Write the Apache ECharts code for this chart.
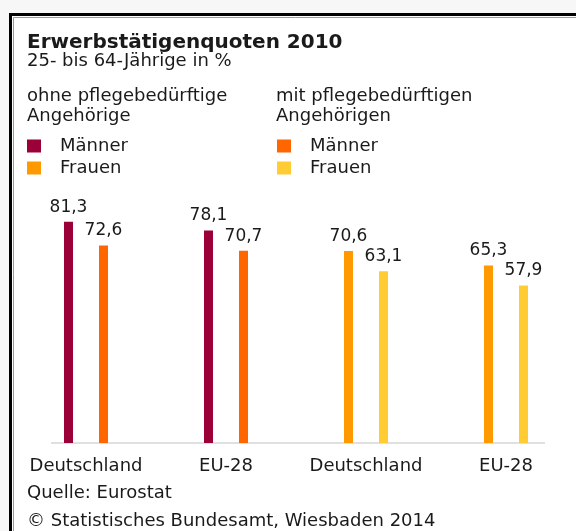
<!DOCTYPE html>
<html>
<head>
<meta charset="utf-8">
<script src="https://cdn.jsdelivr.net/npm/echarts@6/dist/echarts.min.js"></script>
<style>
html,body{margin:0;padding:0;background:#fff;}
#c{width:576px;height:531px;}
</style>
</head>
<body>
<div id="c"></div>
<script>
// ---- data ----
var categories = ['Deutschland', 'EU-28', 'Deutschland', 'EU-28'];
var ohneMaenner = [81.3, 78.1, null, null];
var ohneFrauen  = [72.6, 70.7, null, null];
var mitMaenner  = [null, null, 70.6, 65.3];
var mitFrauen   = [null, null, 63.1, 57.9];
var yMin = 0, yMax = 100;

var FONT = 'DejaVu Sans';
var TXT = '#1a1a1a';
var BODY = 18;

var chart = echarts.init(document.getElementById('c'), null, {renderer: 'canvas'});

function fmt(p) { return p.value == null ? '' : p.value.toFixed(1).replace('.', ','); }

function barSeries(name, data, color, stack) {
  return {
    name: name, type: 'bar', stack: stack, data: data,
    barWidth: 9, barGap: '289%',
    itemStyle: {color: color},
    label: {show: true, position: 'top', distance: 6, formatter: fmt,
            fontFamily: FONT, fontSize: 17, color: TXT},
    emphasis: {disabled: true}
  };
}

function txt(text, left, top, extra) {
  var ts = {fontFamily: FONT, fontSize: BODY, fontWeight: 'normal', color: TXT};
  for (var k in (extra || {})) ts[k] = extra[k];
  return {text: text, left: left, top: top, padding: 0, textStyle: ts};
}

function legendCfg(left, items) {
  return {
    left: left, top: 137, padding: 0, orient: 'vertical',
    itemWidth: 14, itemHeight: 13, itemGap: 4,
    selectedMode: false, icon: 'rect',
    formatter: function (n) { return n.trim(); },
    textStyle: {fontFamily: FONT, fontSize: BODY, color: TXT, lineHeight: 17, padding: [0, 0, 0, 14]},
    data: items
  };
}

var option = {
  backgroundColor: '#f7f7f7',
  animation: false,
  title: [
    txt('Erwerbstätigenquoten 2010', 27, 33, {fontSize: 20, fontWeight: 'bold'}),
    txt('25- bis 64-Jährige in %', 27, 52),
    txt('ohne pflegebedürftige\nAngehörige', 27, 86, {lineHeight: 20}),
    txt('mit pflegebedürftigen\nAngehörigen', 276, 86, {lineHeight: 20}),
    txt('Quelle: Eurostat', 27, 484),
    txt('© Statistisches Bundesamt, Wiesbaden 2014', 27, 512)
  ],
  legend: [
    legendCfg(27, [{name: 'Männer', itemStyle: {color: '#9b0039'}},
                   {name: 'Frauen', itemStyle: {color: '#ff9900'}}]),
    legendCfg(277, [{name: 'Männer ', itemStyle: {color: '#ff6600'}},
                    {name: 'Frauen ', itemStyle: {color: '#ffcc33'}}])
  ],
  grid: {left: 16, width: 565, top: 171, bottom: 88, containLabel: false},
  xAxis: {
    type: 'category', data: categories,
    axisLine: {show: false}, axisTick: {show: false},
    axisLabel: {margin: 14, fontFamily: FONT, fontSize: BODY, color: TXT, interval: 0}
  },
  yAxis: {
    type: 'value', min: yMin, max: yMax,
    show: false, splitLine: {show: false}
  },
  graphic: [
    {type: 'rect', z: -10, silent: true,
     shape: {x: 10.5, y: 14.5, width: 700, height: 700},
     style: {fill: '#ffffff', stroke: '#000000', lineWidth: 3}},
    {type: 'rect', z: -9, silent: true,
     shape: {x: 13.5, y: 17.5, width: 700, height: 700},
     style: {fill: 'none', stroke: '#9a9a9a', lineWidth: 1}},
    {type: 'line', z: -5, silent: true,
     shape: {x1: 51, y1: 443, x2: 545, y2: 443},
     style: {stroke: '#e0e0e0', lineWidth: 2}}
  ],
  series: [
    barSeries('Männer', ohneMaenner, '#9b0039', 'a'),
    barSeries('Frauen', ohneFrauen, '#ff6600', 'b'),
    barSeries('Männer ', mitMaenner, '#ff9900', 'a'),
    barSeries('Frauen ', mitFrauen, '#ffcc33', 'b')
  ]
};
chart.setOption(option);
</script>
</body>
</html>
